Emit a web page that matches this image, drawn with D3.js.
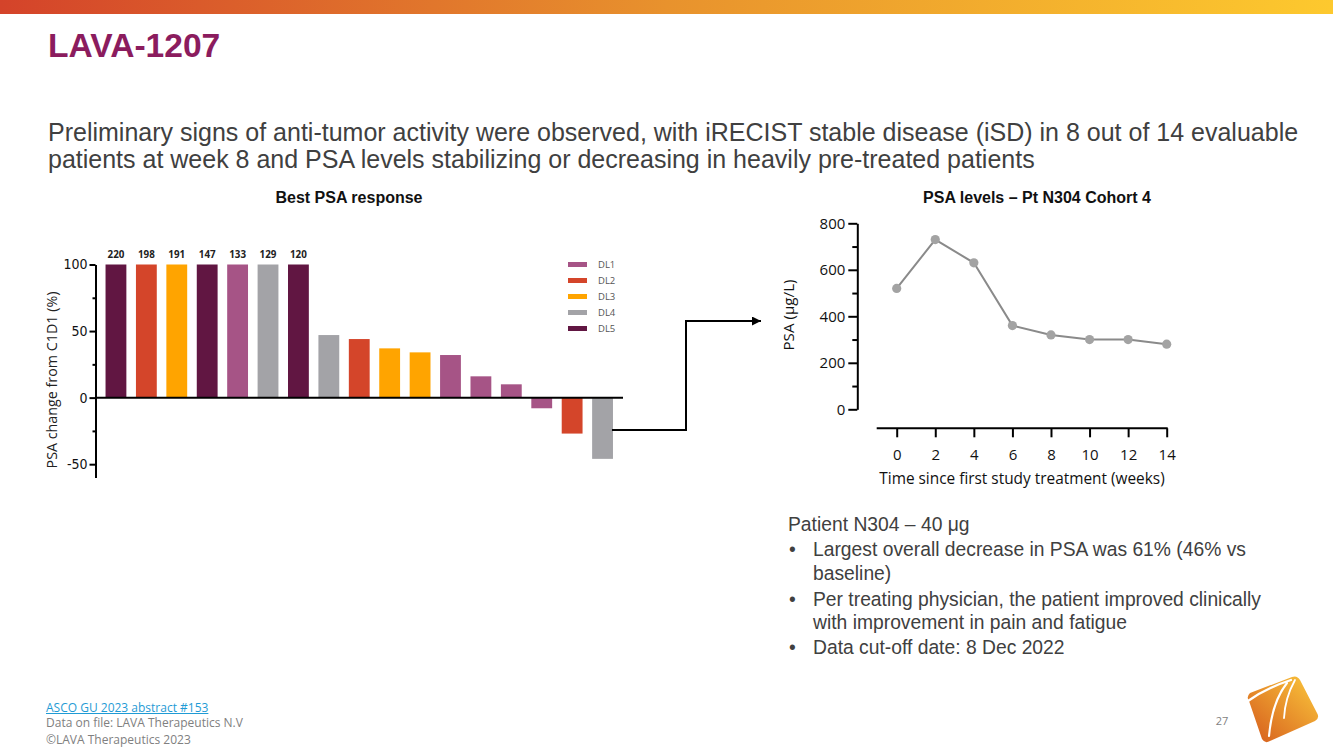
<!DOCTYPE html>
<html><head><meta charset="utf-8">
<script src="https://cdn.jsdelivr.net/npm/d3@7"></script>
<style>body{margin:0;background:#fff} svg{display:block}</style>
</head><body>
<svg id="c" width="1333" height="749"></svg>
<script>
// ---------- DATA ----------
const patients = ["P1","P2","P3","P4","P5","P6","P7","P8","P9","P10","P11","P12","P13","P14","P15","P16","P17"];
const barDose = ["DL5","DL2","DL3","DL5","DL1","DL4","DL5","DL4","DL2","DL3","DL3","DL1","DL1","DL1","DL1","DL2","DL4"];
const barValues = [220,198,191,147,133,129,120,47,44,37,34,32,16,10,-8,-27,-46];
const doseLevels = ["DL1","DL2","DL3","DL4","DL5"];
const doseColors = ["#a65486","#d4452a","#ffa400","#a3a3a7","#611642"];
const waterfallTicks = [-50,0,50,100];
const waterfallMinorTicks = [-25,25,75];
const weeks = [0,2,4,6,8,10,12,14];
const psaLevels = [520,730,630,360,320,300,300,280];
const psaTicks = [0,200,400,600,800];
const psaMinorTicks = [100,300,500,700];

const svg = d3.select("#c");
const SANS = "'Liberation Sans', Arial, sans-serif";
const CAL = "'Open Sans', sans-serif";
const NARROW = "'Liberation Sans Narrow', 'Arial Narrow', 'DejaVu Sans Condensed', sans-serif";

// ---------- header ----------
const defs = svg.append("defs");
const g1 = defs.append("linearGradient").attr("id","topbar").attr("x1","0").attr("x2","1").attr("y1","0").attr("y2","0");
g1.append("stop").attr("offset","0%").attr("stop-color","#d4432a");
g1.append("stop").attr("offset","50%").attr("stop-color","#e8922d");
g1.append("stop").attr("offset","100%").attr("stop-color","#fdc92e");
svg.append("rect").attr("x",0).attr("y",0).attr("width",1333).attr("height",14).attr("fill","url(#topbar)");

svg.append("text").attr("x",48).attr("y",57).attr("font-family",SANS).attr("font-weight","bold")
  .attr("font-size",33.6).attr("fill","#8b1c5e").text("LAVA-1207");

const sub = svg.append("g").attr("font-family",SANS).attr("font-size",25).attr("fill","#404040");
sub.append("text").attr("x",48).attr("y",141).text("Preliminary signs of anti-tumor activity were observed, with iRECIST stable disease (iSD) in 8 out of 14 evaluable");
sub.append("text").attr("x",48).attr("y",168).text("patients at week 8 and PSA levels stabilizing or decreasing in heavily pre-treated patients");

// ---------- waterfall ----------
const color = d3.scaleOrdinal().domain(doseLevels).range(doseColors);
const x = d3.scaleBand().domain(patients).range([95.5, 623]).paddingInner(0.315).paddingOuter(0.33);
const y = d3.scaleLinear().domain([-60,100]).range([477.5, 264.5]);
const axX = 95.5;

svg.append("text").attr("x",349).attr("y",203).attr("text-anchor","middle").attr("font-family",SANS)
  .attr("font-weight","bold").attr("font-size",16).attr("fill","#111").text("Best PSA response");

const wf = svg.append("g");
wf.selectAll("rect.bar").data(barValues).join("rect").attr("class","bar")
  .attr("x",(d,i)=>x(patients[i])).attr("width",x.bandwidth())
  .attr("y",d=>y(Math.min(d,100) > 0 ? Math.min(d,100) : 0))
  .attr("height",d=>Math.abs(y(Math.min(d,100)) - y(0)))
  .attr("fill",(d,i)=>color(barDose[i]));

wf.selectAll("text.lab").data(barValues.map((v,i)=>({v,i})).filter(d=>d.v>100)).join("text").attr("class","lab")
  .attr("x",d=>x(patients[d.i])+x.bandwidth()/2).attr("y",y(100)-7).attr("text-anchor","middle")
  .attr("font-family",CAL).attr("font-weight","bold").attr("font-size",9.8).attr("fill","#222").text(d=>d.v);

const yAx = wf.append("g").attr("transform",`translate(${axX},0)`)
  .call(d3.axisLeft(y).tickValues(waterfallTicks).tickFormat(d=>String(d)).tickSize(6).tickSizeOuter(0).tickPadding(2));
yAx.selectAll("path,line").attr("stroke","#000").attr("stroke-width",2);
yAx.selectAll("text").attr("font-family",NARROW).attr("font-size",14).attr("fill","#111");
const yMin = wf.append("g").attr("transform",`translate(${axX},0)`)
  .call(d3.axisLeft(y).tickValues(waterfallMinorTicks).tickSize(3).tickFormat(""));
yMin.select("path").remove();
yMin.selectAll("line").attr("stroke","#000").attr("stroke-width",2);

wf.append("line").attr("x1",axX).attr("x2",x.range()[1]).attr("y1",y(0)).attr("y2",y(0))
  .attr("stroke","#000").attr("stroke-width",2);

wf.append("text").attr("transform",`translate(57,380) rotate(-90)`).attr("text-anchor","middle")
  .attr("font-family",CAL).attr("font-size",14.3).attr("fill","#222").text("PSA change from C1D1 (%)");

// legend
const leg = wf.append("g");
doseLevels.forEach((d,i)=>{
  leg.append("rect").attr("x",568).attr("y",262+i*16).attr("width",19).attr("height",5).attr("fill",doseColors[i]);
  leg.append("text").attr("x",598).attr("y",268+i*16).attr("font-family",CAL).attr("font-size",9.5)
    .attr("fill","#555").text(d);
});

// connector arrow
defs.append("marker").attr("id","arr").attr("viewBox","0 0 10 10").attr("refX",10).attr("refY",5)
  .attr("markerWidth",4.5).attr("markerHeight",4.5).attr("orient","auto")
  .append("path").attr("d","M0,0 L10,5 L0,10 z").attr("fill","#000");
const lastI = patients.length-1;
svg.append("path").attr("d",`M${x(patients[lastI])+x.bandwidth()-1},430 H686 V321 H761`)
  .attr("fill","none").attr("stroke","#000").attr("stroke-width",2).attr("marker-end","url(#arr)");

// ---------- line chart ----------
const xs = d3.scaleLinear().domain([0,14]).range([896.7,1166.7]);
const ys = d3.scaleLinear().domain([0,800]).range([409.3,223.3]);

svg.append("text").attr("x",1037).attr("y",203).attr("text-anchor","middle").attr("font-family",SANS)
  .attr("font-weight","bold").attr("font-size",16).attr("fill","#111").text("PSA levels – Pt N304 Cohort 4");

const lc = svg.append("g");
const ly = lc.append("g").attr("transform","translate(857.3,0)")
  .call(d3.axisLeft(ys).tickValues(psaTicks).tickSize(9).tickSizeOuter(0).tickPadding(3));
ly.selectAll("path,line").attr("stroke","#000").attr("stroke-width",2);
ly.selectAll("text").attr("font-family",CAL).attr("font-size",15).attr("fill","#111");
const lyMin = lc.append("g").attr("transform","translate(857.3,0)")
  .call(d3.axisLeft(ys).tickValues(psaMinorTicks).tickSize(5).tickFormat(""));
lyMin.select("path").remove();
lyMin.selectAll("line").attr("stroke","#000").attr("stroke-width",2);

const lx = lc.append("g").attr("transform","translate(0,428.3)")
  .call(d3.axisBottom(xs).tickValues(weeks).tickSize(9).tickSizeOuter(0).tickPadding(12));
lx.select("path").remove();
lx.selectAll("line").attr("stroke","#000").attr("stroke-width",2);
lx.selectAll("text").attr("font-family",CAL).attr("font-size",15).attr("fill","#111");
lc.append("line").attr("x1",876.7).attr("x2",xs(14)+1).attr("y1",428.3).attr("y2",428.3)
  .attr("stroke","#000").attr("stroke-width",2);

lc.append("text").attr("x",1022).attr("y",484).attr("text-anchor","middle").attr("font-family",CAL)
  .attr("font-size",15.4).attr("fill","#111").text("Time since first study treatment (weeks)");
lc.append("text").attr("transform","translate(794,315) rotate(-90)").attr("text-anchor","middle")
  .attr("font-family",CAL).attr("font-size",15.2).attr("fill","#111").text("PSA (µg/L)");

const line = d3.line().x((d,i)=>xs(weeks[i])).y(d=>ys(d));
lc.append("path").datum(psaLevels).attr("d",line).attr("fill","none").attr("stroke","#8a8a8a").attr("stroke-width",2);
lc.selectAll("circle").data(psaLevels).join("circle").attr("cx",(d,i)=>xs(weeks[i])).attr("cy",d=>ys(d))
  .attr("r",4.6).attr("fill","#a3a3a3");

// ---------- text block ----------
const tb = svg.append("g").attr("font-family",SANS).attr("font-size",19.3).attr("fill","#404040");
tb.append("text").attr("x",788).attr("y",531).text("Patient N304 – 40 μg");
const bl = [
  [556,"•","Largest overall decrease in PSA was 61% (46% vs"],
  [580,"","baseline)"],
  [606,"•","Per treating physician, the patient improved clinically"],
  [629,"","with improvement in pain and fatigue"],
  [654,"•","Data cut-off date: 8 Dec 2022"]
];
bl.forEach(([yy,b,t])=>{
  if(b) tb.append("text").attr("x",789).attr("y",yy).text(b);
  tb.append("text").attr("x",813).attr("y",yy).text(t);
});

// ---------- footer ----------
const ft = svg.append("g").attr("font-family",CAL).attr("font-size",12);
const link = ft.append("text").attr("x",46).attr("y",711.5).attr("fill","#1f9bd5").text("ASCO GU 2023 abstract #153");
const lw = link.node().getComputedTextLength();
ft.append("line").attr("x1",46).attr("x2",46+lw).attr("y1",713.5).attr("y2",713.5).attr("stroke","#1f9bd5").attr("stroke-width",1);
ft.append("text").attr("x",46).attr("y",727).attr("fill","#808080").text("Data on file: LAVA Therapeutics N.V");
ft.append("text").attr("x",46).attr("y",743.5).attr("fill","#808080").text("©LAVA Therapeutics 2023");
svg.append("text").attr("x",1222).attr("y",725).attr("text-anchor","middle").attr("font-family",CAL)
  .attr("font-size",11).attr("fill","#7f7f7f").text("27");

// ---------- logo ----------
const lg = defs.append("linearGradient").attr("id","logo").attr("x1","1").attr("y1","0").attr("x2","0").attr("y2","1");
lg.append("stop").attr("offset","0%").attr("stop-color","#fbc93c");
lg.append("stop").attr("offset","100%").attr("stop-color","#d55a1c");
svg.append("path").attr("d","M1250,693 Q1246,697 1249,701 L1262,739 Q1265,744 1270,741 L1315,721 Q1320,718 1317,713 L1300,680 Q1297,675 1292,677 Z")
  .attr("fill","url(#logo)");
const wl = svg.append("g").attr("fill","none").attr("stroke","#fff").attr("stroke-linecap","round");
wl.append("path").attr("d","M1248,701 Q1266,688 1291,680").attr("stroke-width",2.2);
wl.append("path").attr("d","M1287,683 Q1272,702 1269,736").attr("stroke-width",2.2);
wl.append("path").attr("d","M1295,680 Q1285,698 1284,718").attr("stroke-width",1.8);
</script>
</body></html>
